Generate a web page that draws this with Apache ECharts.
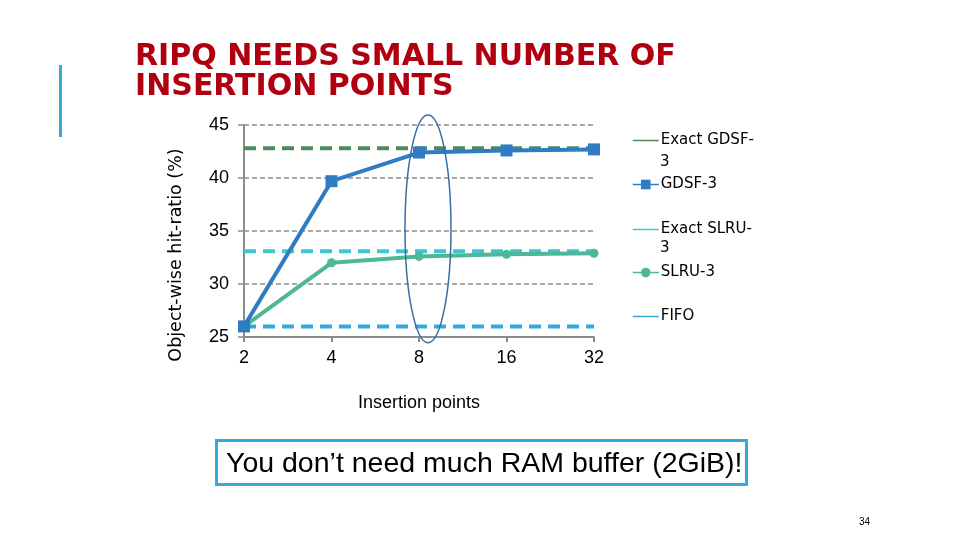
<!DOCTYPE html>
<html>
<head>
<meta charset="utf-8">
<script src="https://cdn.jsdelivr.net/npm/echarts@6/dist/echarts.min.js"></script>
<style>
html,body{margin:0;padding:0;background:#fff;}
#chart{width:960px;height:540px;}
</style>
</head>
<body>
<div id="chart"></div>
<script>
const categories = ['2', '4', '8', '16', '32'];
const exactGdsf = [42.8, 42.8, 42.8, 42.8, 42.8];
const gdsf3 = [26.0, 39.7, 42.4, 42.6, 42.7];
const exactSlru = [33.1, 33.1, 33.1, 33.1, 33.1];
const slru3 = [26.0, 32.0, 32.6, 32.8, 32.9];
const fifo = [26.0, 26.0, 26.0, 26.0, 26.0];
const yTicks = [25, 30, 35, 40, 45];
const titleText = 'RIPQ NEEDS SMALL NUMBER OF\nINSERTION POINTS';
const calloutText = 'You don\u2019t need much RAM buffer (2GiB)!';

const C = {
  exactGdsf: '#4f8a5f',
  gdsf: '#2f7cc2',
  exactSlru: '#3fc5d0',
  slru: '#4cb894',
  fifo: '#36a8db'
};

const chart = echarts.init(document.getElementById('chart'), null, {renderer: 'canvas'});
const font = 'Liberation Sans, Arial, sans-serif';

function legendItem(name, top, text, plain) {
  const d = plain ? {name: name, itemStyle: {opacity: 0}} : {name: name};
  return {
    data: [d], orient: 'vertical', left: 632, top: top, padding: 0,
    itemWidth: 26, itemHeight: 12, itemGap: 0,
    selectedMode: false,
    formatter: function () { return text; },
    textStyle: {fontFamily: 'DejaVu Sans', fontSize: 15, color: '#000', padding: [0, 0, 0, -3]},
    lineStyle: {width: 1.5, type: 'solid'}
  };
}

const option = {
  animation: false,
  backgroundColor: '#fff',
  title: {
    text: titleText, left: 130, top: 37,
    textStyle: {fontFamily: 'DejaVu Sans', fontWeight: 'bold', fontSize: 30, color: '#b0000f', lineHeight: 30}
  },
  legend: [
    legendItem('Exact GDSF-3', 133, 'Exact GDSF-', true),
    legendItem('GDSF-3', 177, 'GDSF-3', false),
    legendItem('Exact SLRU-3', 222, 'Exact SLRU-', true),
    legendItem('SLRU-3', 265, 'SLRU-3', false),
    legendItem('FIFO', 309, 'FIFO', true)
  ],
  grid: {left: 244, right: 366, top: 125, bottom: 203, containLabel: false},
  xAxis: {
    type: 'category', data: categories, boundaryGap: false,
    name: 'Insertion points', nameLocation: 'middle', nameGap: 57,
    nameTextStyle: {fontFamily: font, fontSize: 18, color: '#000'},
    axisLine: {lineStyle: {color: '#8c8c8c', width: 2}},
    axisTick: {show: true, alignWithLabel: true, length: 5, lineStyle: {color: '#8c8c8c', width: 2}},
    axisLabel: {fontFamily: font, fontSize: 18, color: '#000', margin: 12},
    splitLine: {show: false}
  },
  yAxis: {
    type: 'value', min: 25, max: 45, interval: 5,
    name: 'Object-wise hit-ratio (%)', nameLocation: 'middle', nameGap: 59,
    nameTextStyle: {fontFamily: 'DejaVu Sans', fontSize: 17.5, color: '#000', padding: [0, 48, 0, 0]},
    axisLine: {show: true, lineStyle: {color: '#8c8c8c', width: 2}},
    axisTick: {show: true, length: 6, lineStyle: {color: '#8c8c8c', width: 1.5}},
    axisLabel: {fontFamily: font, fontSize: 18, color: '#000', margin: 15,
      formatter: function (v) { return yTicks.indexOf(v) >= 0 ? String(v) : ''; }},
    splitLine: {show: true, lineStyle: {color: '#8c8c8c', type: [5, 3], width: 1.5}}
  },
  series: [
    {name: 'Exact GDSF-3', type: 'line', data: exactGdsf, symbol: 'none', z: 2,
      lineStyle: {color: C.exactGdsf, width: 4, type: [12, 7]}, itemStyle: {color: C.exactGdsf}},
    {name: 'Exact SLRU-3', type: 'line', data: exactSlru, symbol: 'none', z: 2,
      lineStyle: {color: C.exactSlru, width: 4, type: [12, 7]}, itemStyle: {color: C.exactSlru}},
    {name: 'FIFO', type: 'line', data: fifo, symbol: 'none', z: 2,
      lineStyle: {color: C.fifo, width: 4, type: [12, 7]}, itemStyle: {color: C.fifo}},
    {name: 'SLRU-3', type: 'line', data: slru3, symbol: 'circle', symbolSize: 9, z: 3,
      lineStyle: {color: C.slru, width: 4}, itemStyle: {color: C.slru}},
    {name: 'GDSF-3', type: 'line', data: gdsf3, symbol: 'rect', symbolSize: 12, z: 4,
      lineStyle: {color: C.gdsf, width: 4}, itemStyle: {color: C.gdsf}}
  ]
};
chart.setOption(option);

// Annotations placed through the chart's own scales
const pc = chart.convertToPixel({gridIndex: 0}, ['8', 35.2]);
const pTop = chart.convertToPixel({gridIndex: 0}, ['8', 45.0]);
const legend3a = 162, legend3b = 248;

chart.setOption({
  graphic: [
    {type: 'rect', shape: {x: 59, y: 65, width: 3, height: 72}, style: {fill: '#36a8db'}},
    {type: 'ellipse', z: 10, shape: {cx: pc[0] + 9, cy: pc[1], rx: 23, ry: (pc[1] - pTop[1]) + 10},
      style: {fill: 'none', stroke: '#3670a8', lineWidth: 1.5}},
    {type: 'text', x: 660, y: legend3a, style: {text: '3', font: '15px DejaVu Sans', fill: '#000', verticalAlign: 'middle'}},
    {type: 'text', x: 660, y: legend3b, style: {text: '3', font: '15px DejaVu Sans', fill: '#000', verticalAlign: 'middle'}},
    {type: 'rect', shape: {x: 216.5, y: 440.5, width: 530, height: 44},
      style: {fill: '#fff', stroke: '#36a8db', lineWidth: 3}},
    {type: 'text', x: 226, y: 464, style: {text: calloutText, font: '28.5px Liberation Sans', fill: '#000', verticalAlign: 'middle'}},
    {type: 'text', x: 859, y: 522, style: {text: '34', font: '10px Liberation Sans', fill: '#000', verticalAlign: 'middle'}}
  ]
});
</script>
</body>
</html>
